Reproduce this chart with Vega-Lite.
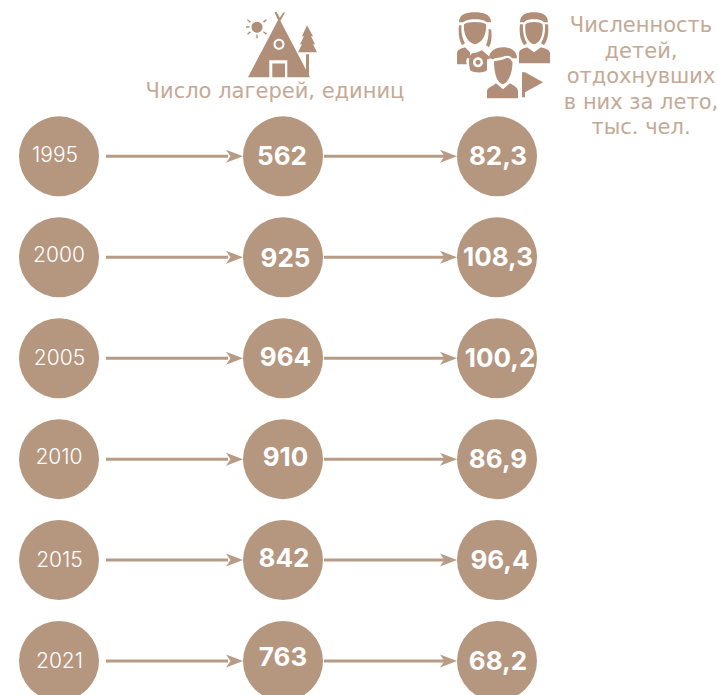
{"$schema":"https://vega.github.io/schema/vega-lite/v6.json","width":718,"height":695,"padding":0,"autosize":{"type":"none"},"background":"white","config":{"view":{"stroke":null}},
"datasets":{
"circles":[{"year":"1995","col":"Год","label":"1995"},{"year":"2000","col":"Год","label":"2000"},{"year":"2005","col":"Год","label":"2005"},{"year":"2010","col":"Год","label":"2010"},{"year":"2015","col":"Год","label":"2015"},{"year":"2021","col":"Год","label":"2021"},
{"year":"1995","col":"Лагеря","label":"562"},{"year":"2000","col":"Лагеря","label":"925"},{"year":"2005","col":"Лагеря","label":"964"},{"year":"2010","col":"Лагеря","label":"910"},{"year":"2015","col":"Лагеря","label":"842"},{"year":"2021","col":"Лагеря","label":"763"},
{"year":"1995","col":"Дети","label":"82,3"},{"year":"2000","col":"Дети","label":"108,3"},{"year":"2005","col":"Дети","label":"100,2"},{"year":"2010","col":"Дети","label":"86,9"},{"year":"2015","col":"Дети","label":"96,4"},{"year":"2021","col":"Дети","label":"68,2"}],
"arrows":[{"year":"1995","from":"Год","to":"Лагеря"},{"year":"2000","from":"Год","to":"Лагеря"},{"year":"2005","from":"Год","to":"Лагеря"},{"year":"2010","from":"Год","to":"Лагеря"},{"year":"2015","from":"Год","to":"Лагеря"},{"year":"2021","from":"Год","to":"Лагеря"},
{"year":"1995","from":"Лагеря","to":"Дети"},{"year":"2000","from":"Лагеря","to":"Дети"},{"year":"2005","from":"Лагеря","to":"Дети"},{"year":"2010","from":"Лагеря","to":"Дети"},{"year":"2015","from":"Лагеря","to":"Дети"},{"year":"2021","from":"Лагеря","to":"Дети"}],
"icons":[{"year":"Заголовок","col":"Лагеря"}],
"iconsKids":[{"year":"Заголовок","col":"Дети"}]
},
"encoding":{
"x":{"field":"col","type":"nominal","axis":null,"scale":{"type":"point","domain":["Год","Лагеря","Дети","Примечание"],"range":[59,716],"padding":0}},
"y":{"field":"year","type":"nominal","axis":null,"scale":{"type":"point","domain":["Заголовок","1995","2000","2005","2010","2015","2021"],"range":[55.4,661],"padding":0}}},
"layer":[
{"data":{"name":"arrows"},"transform":[{"filter":"datum.from==='Год'"}],"mark":{"type":"rule","color":"#b89b85","strokeWidth":3,"xOffset":47,"x2Offset":-50},"encoding":{"x":{"field":"from","type":"nominal"},"x2":{"field":"to"}}},
{"data":{"name":"arrows"},"transform":[{"filter":"datum.from==='Лагеря'"}],"mark":{"type":"rule","color":"#b89b85","strokeWidth":3,"xOffset":46,"x2Offset":-45},"encoding":{"x":{"field":"from","type":"nominal"},"x2":{"field":"to"}}},
{"data":{"name":"arrows"},"transform":[{"filter":"datum.from==='Лагеря'"}],"mark":{"type":"point","filled":true,"opacity":1,"color":"#b89b85","size":4,"shape":"M 8.5 0 L -8.5 -6.5 L -4 0 L -8.5 6.5 Z","xOffset":-48.5},"encoding":{"x":{"field":"to","type":"nominal"}}},
{"data":{"name":"arrows"},"transform":[{"filter":"datum.from==='Год'"}],"mark":{"type":"point","filled":true,"opacity":1,"color":"#b89b85","size":4,"shape":"M 8.5 0 L -8.5 -6.5 L -4 0 L -8.5 6.5 Z","xOffset":-43.5},"encoding":{"x":{"field":"to","type":"nominal"}}},
{"data":{"name":"circles"},"mark":{"type":"circle","color":"#b5967f","opacity":1,"size":6400},"encoding":{"x":{"field":"col","type":"nominal"}},"transform":[{"filter":"datum.col!=='Лагеря'"}]},
{"data":{"name":"circles"},"mark":{"type":"circle","color":"#b5967f","opacity":1,"size":6400,"xOffset":5},"transform":[{"filter":"datum.col==='Лагеря'"}]},
{"data":{"name":"circles"},"transform":[{"filter":"datum.label==='2000' || datum.label==='2010'"}],"mark":{"type":"text","font":"Inter","fontWeight":300,"fontSize":21,"color":"white","dy":-1},"encoding":{"text":{"field":"label"}}},
{"data":{"name":"circles"},"transform":[{"filter":"datum.label==='2005' || datum.label==='2015' || datum.label==='2021'"}],"mark":{"type":"text","font":"Inter","fontWeight":300,"fontSize":21,"color":"white","dy":1,"dx":0.5},"encoding":{"text":{"field":"label"}}},
{"data":{"name":"circles"},"transform":[{"filter":"datum.label==='1995'"}],"mark":{"type":"text","font":"Inter","fontWeight":300,"fontSize":21,"color":"white","dy":0,"dx":-4},"encoding":{"text":{"field":"label"}}},
{"data":{"name":"circles"},"transform":[{"filter":"datum.label==='562'"}],"mark":{"type":"text","font":"Inter","fontWeight":700,"fontSize":26,"color":"white","dx":4,"dy":1},"encoding":{"text":{"field":"label"}}},
{"data":{"name":"circles"},"transform":[{"filter":"datum.label==='925'"}],"mark":{"type":"text","font":"Inter","fontWeight":700,"fontSize":26,"color":"white","dx":7.5,"dy":2},"encoding":{"text":{"field":"label"}}},
{"data":{"name":"circles"},"transform":[{"filter":"datum.label==='964'"}],"mark":{"type":"text","font":"Inter","fontWeight":700,"fontSize":26,"color":"white","dx":7.5},"encoding":{"text":{"field":"label"}}},
{"data":{"name":"circles"},"transform":[{"filter":"datum.label==='910'"}],"mark":{"type":"text","font":"Inter","fontWeight":700,"fontSize":26,"color":"white","dx":7.5,"dy":-1},"encoding":{"text":{"field":"label"}}},
{"data":{"name":"circles"},"transform":[{"filter":"datum.label==='842'"}],"mark":{"type":"text","font":"Inter","fontWeight":700,"fontSize":26,"color":"white","dx":6,"dy":-1},"encoding":{"text":{"field":"label"}}},
{"data":{"name":"circles"},"transform":[{"filter":"datum.label==='763'"}],"mark":{"type":"text","font":"Inter","fontWeight":700,"fontSize":26,"color":"white","dx":5,"dy":-3},"encoding":{"text":{"field":"label"}}},
{"data":{"name":"circles"},"transform":[{"filter":"datum.col==='Дети' && datum.label!=='100,2' && datum.label!=='96,4'"}],"mark":{"type":"text","font":"Inter","fontWeight":700,"fontSize":26,"color":"white","dy":1,"dx":1},"encoding":{"text":{"field":"label"}}},
{"data":{"name":"circles"},"transform":[{"filter":"datum.label==='100,2' || datum.label==='96,4'"}],"mark":{"type":"text","font":"Inter","fontWeight":700,"fontSize":26,"color":"white","dy":1,"dx":3},"encoding":{"text":{"field":"label"}}},
{"data":{"values":[{"year":"Заголовок","col":"Лагеря","label":"Число лагерей, единиц"}]},"mark":{"type":"text","font":"DejaVu Sans","fontSize":21,"color":"#c4a996","dy":37,"dx":-3},"encoding":{"text":{"field":"label"}}},
{"data":{"values":[{"year":"Заголовок","col":"Примечание","label":["Численность","детей,","отдохнувших","в них за лето,","тыс. чел."]}]},"mark":{"type":"text","font":"DejaVu Sans","fontSize":21,"color":"#c4a996","lineHeight":25.5,"dx":-75,"dy":-29},"encoding":{"text":{"field":"label"}}},
{"data":{"name":"icons"},"mark":{"type":"point","filled":true,"opacity":1,"color":"#b08e78","size":4,"yOffset":0.8,"shape":"M 1 -38 L 32 21 L -30 21 Z M -8.7 4 L -8.7 21 L 9.3 21 L 9.3 4 Z M -5.7 7.3 L 7 7.3 L 7 21 L -5.7 21 Z M -4.5 -12 A 5.5 5.5 0 0 0 6.5 -12 A 5.5 5.5 0 0 0 -4.5 -12 Z M -2.5 -12 A 3.5 3.5 0 0 1 4.5 -12 A 3.5 3.5 0 0 1 -2.5 -12 Z M -3.5 -44 L -1.5 -44.5 L 3 -36 L 1 -34 Z M 5.5 -44 L 7 -43.5 L 2 -35 L 0 -36 Z M 29 -31 L 35 -20 L 33 -20 L 37 -12 L 35 -12 L 39 -4 L 20 -4 L 24 -12 L 22 -12 L 26 -20 L 24 -20 Z M 28 -2 L 31 -2 L 31 21 L 28 21 Z M -26.5 -29 A 5.5 5.5 0 0 1 -15.5 -29 A 5.5 5.5 0 0 1 -26.5 -29 Z M -32 -30 L -28.5 -30 L -28.5 -28.5 L -32 -28.5 Z M -21.7 -21.5 L -20.3 -21.5 L -20.3 -18 L -21.7 -18 Z M -30.5 -37 L -27 -34.5 L -28 -33.5 L -31 -36 Z M -27 -24 L -28 -25 L -31 -22.5 L -30 -21.5 Z M -15 -35 L -12 -37 L -11 -36 L -14 -33.5 Z M -14.5 -25 L -11 -23 L -12 -21.5 L -15 -24 Z"}},
{"data":{"name":"iconsKids"},"mark":{"type":"point","filled":true,"opacity":1,"color":"#b08e78","size":4,"yOffset":0.8,"shape":"M 23 -34 C 23 -42 30 -44 37 -44 C 44 -44 51 -42 51 -34 L 47 -34 C 44 -37 41 -37 37 -37 C 33 -37 30 -37 27 -34 Z M 28.5 -32 C 32 -35 42 -35 45.5 -32 C 47 -22 43 -13 37 -12 C 31 -13 27 -22 28.5 -32 Z M 23 -32 L 26 -32 C 25.5 -24 27 -18 30 -13 L 27 -11 C 23 -16 22 -24 23 -32 Z M 51 -32 L 48 -32 C 48.5 -24 47 -18 44 -13 L 47 -11 C 51 -16 52 -24 51 -32 Z M 22 7 L 22 -3 C 22 -7 27 -8 30 -9 L 37 -4 L 44 -9 C 47 -8 53 -7 53 -3 L 53 7 Z M -38 -34 C -38 -42 -31 -44 -22 -44 C -14 -44 -6 -42 -6 -34 L -10 -34 C -14 -37 -18 -37 -22 -37 C -26 -37 -30 -37 -34 -34 Z M -33 -32 C -29 -35 -15 -35 -11 -32 C -10 -22 -15 -13 -22 -12 C -29 -13 -34 -22 -33 -32 Z M -38 -31 L -35.5 -31 C -36 -24 -35 -18 -32 -13 L -35 -11 C -38 -16 -39 -24 -38 -31 Z M -6 -27 L -8.5 -27 C -8 -22 -9 -16 -11 -11 L -8 -9 C -5 -14 -5 -22 -6 -27 Z M -40 3 L -40 -3 C -40 -7 -35 -8 -32 -9 L -27 -4 L -27 2 L -30 2 C -31 4 -31 7 -30 8 L -40 8 Z M -25 -3 C -22 -3 -19 -4 -15 -6 L -8 0 L -8 3 L -10 3 L -10 14 C -14 17 -22 17 -27 14 L -28 7 C -28 -1 -26 -2 -25 -3 Z M -14 6 A 5 5 0 0 0 -24 6 A 5 5 0 0 0 -14 6 Z M -16.5 6 A 2.5 2.5 0 0 1 -21.5 6 A 2.5 2.5 0 0 1 -16.5 6 Z M -8 2 C -8 -6 0 -9 6 -9 C 12 -9 20 -6 20 2 L 15 2 C 12 -2 8 0 4 1 C 1 2 -1 1 -4 3 Z M -3 5 C 1 4 5 4 9 2 C 12 1 14 3 15.5 6 C 15.5 17 11 27 6 28 C 0 27 -3 17 -3 5 Z M -10 42 L -10 35 C -10 31 -4 30 -1 27 L 6 33 L 13 27 C 16 29 21 31 21 35 L 21 42 Z M 25 16 L 28 16 L 46 26 L 28 36 L 28 41 L 25 41 Z"}}
]}
